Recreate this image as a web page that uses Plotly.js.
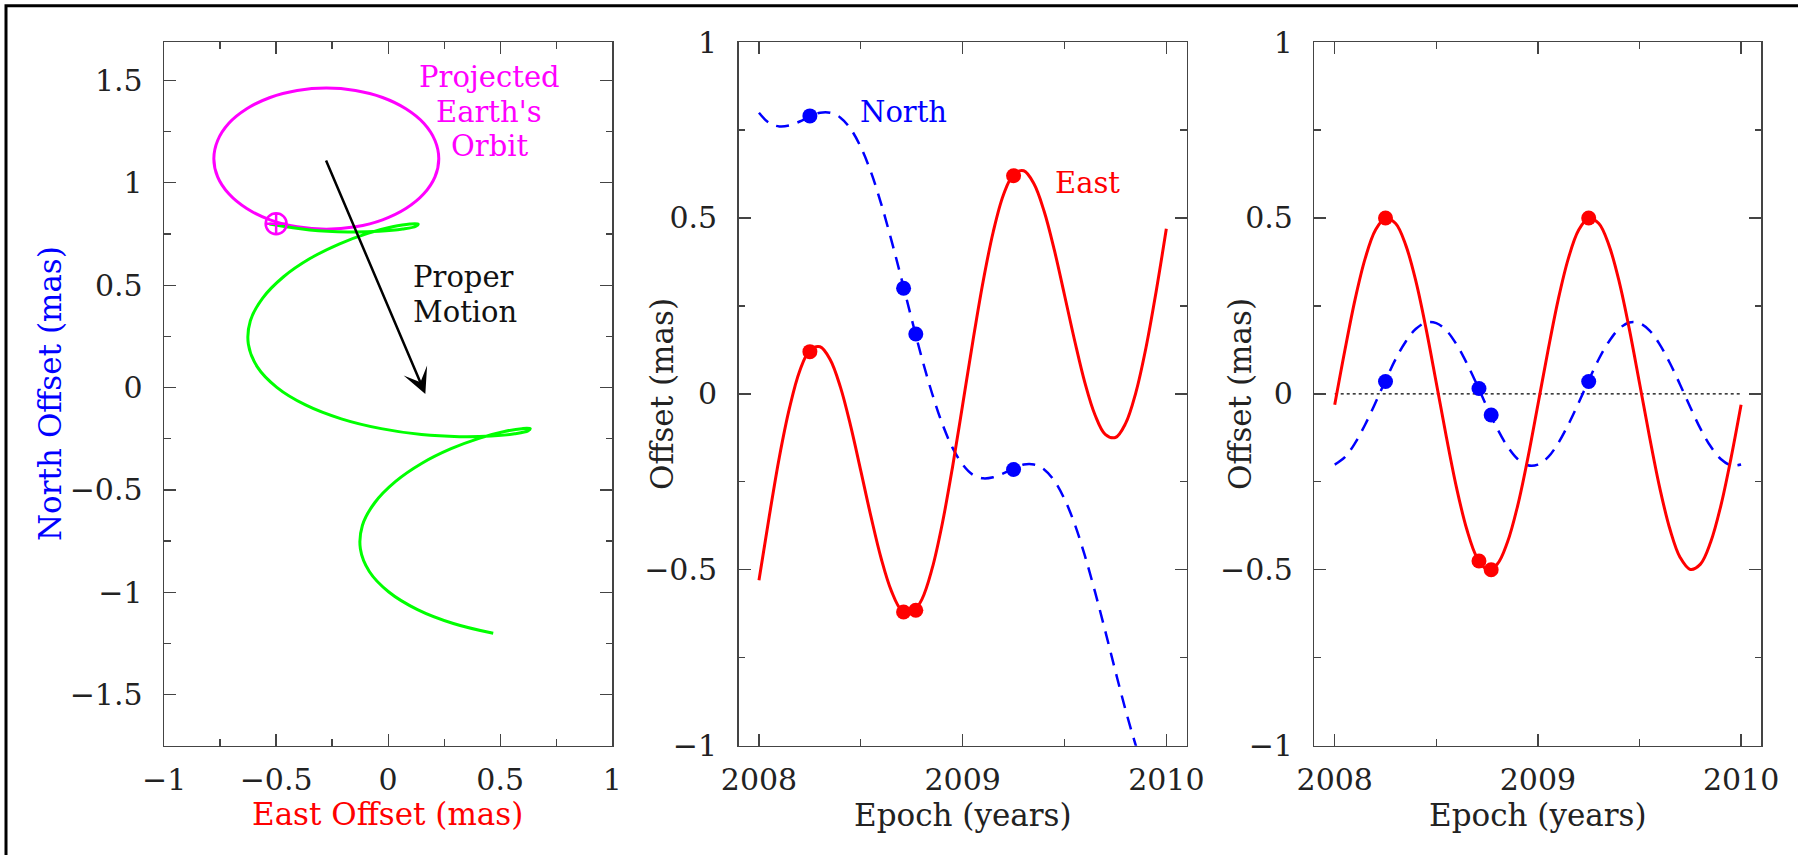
<!DOCTYPE html>
<html>
<head>
<meta charset="utf-8">
<script src="https://cdn.plot.ly/plotly-3.0.1.min.js"></script>
<style>html,body{margin:0;padding:0;background:#fff;}#chart{width:1798px;height:855px;}</style>
</head>
<body>
<div id="chart"></div>
<script>
// ---------- data ----------
// model epochs (years)
const epochs = [2008.00,2008.05,2008.10,2008.15,2008.20,2008.25,2008.30,2008.35,2008.40,2008.45,
  2008.50,2008.55,2008.60,2008.65,2008.70,2008.75,2008.80,2008.85,2008.90,2008.95,
  2009.00,2009.05,2009.10,2009.15,2009.20,2009.25,2009.30,2009.35,2009.40,2009.45,
  2009.50,2009.55,2009.60,2009.65,2009.70,2009.75,2009.80,2009.85,2009.90,2009.95,2010.00];

// parallax + proper motion (middle panel, also the track of the left panel)
const eastTotal = [-0.53,-0.35,-0.18,-0.04,0.065,0.124,0.134,0.097,0.019,-0.091,
  -0.219,-0.349,-0.468,-0.56,-0.615,-0.624,-0.584,-0.497,-0.369,-0.209,
  -0.031,0.149,0.318,0.46,0.565,0.624,0.634,0.597,0.519,0.409,
  0.281,0.151,0.032,-0.06,-0.115,-0.124,-0.084,0.003,0.131,0.291,0.469];
const northTotal = [0.799,0.77,0.76,0.763,0.774,0.788,0.799,0.799,0.785,0.753,
  0.701,0.63,0.54,0.437,0.326,0.212,0.101,0.001,-0.085,-0.153,
  -0.201,-0.23,-0.24,-0.237,-0.226,-0.212,-0.201,-0.201,-0.215,-0.247,
  -0.299,-0.37,-0.46,-0.563,-0.674,-0.788,-0.899,-0.999,-1.085,-1.153,-1.201];

// parallax only (right panel)
const eastParallax = [-0.031,0.124,0.268,0.385,0.465,0.499,0.484,0.422,0.319,0.184,
  0.031,-0.124,-0.268,-0.385,-0.465,-0.499,-0.484,-0.422,-0.319,-0.184,
  -0.031,0.124,0.268,0.385,0.465,0.499,0.484,0.422,0.319,0.184,
  0.031,-0.124,-0.268,-0.385,-0.465,-0.499,-0.484,-0.422,-0.319,-0.184,-0.031];
const northParallax = [-0.201,-0.18,-0.14,-0.087,-0.026,0.038,0.099,0.149,0.185,0.203,
  0.201,0.18,0.14,0.087,0.026,-0.038,-0.099,-0.149,-0.185,-0.203,
  -0.201,-0.18,-0.14,-0.087,-0.026,0.038,0.099,0.149,0.185,0.203,
  0.201,0.18,0.14,0.087,0.026,-0.038,-0.099,-0.149,-0.185,-0.203,-0.201];

// observations
const obsEpoch = [2008.25, 2008.71, 2008.77, 2009.25];
const obsEastTotal = [0.12, -0.62, -0.615, 0.62];
const obsNorthTotal = [0.79, 0.30, 0.17, -0.215];
const obsEastParallax = [0.50, -0.475, -0.50, 0.50];
const obsNorthParallax = [0.035, 0.015, -0.06, 0.035];

// projected Earth's orbit (East, North) in mas
const orbitEast = [0.226,0.209,0.159,0.079,-0.025,-0.146,-0.276,-0.406,-0.527,-0.631,-0.711,-0.761,
  -0.778,-0.761,-0.711,-0.631,-0.527,-0.406,-0.276,-0.146,-0.025,0.079,0.159,0.209,0.226];
const orbitNorth = [1.118,1.207,1.291,1.362,1.417,1.451,1.463,1.451,1.417,1.362,1.291,1.207,
  1.118,1.029,0.946,0.874,0.819,0.785,0.773,0.785,0.819,0.874,0.946,1.029,1.118];

// start position marker and proper-motion arrow (East, North)
const startEast = [-0.5];
const startNorth = [0.8];
const arrowTail = [-0.28, 1.116];
const arrowHead = [0.166, -0.032];

// zero reference line on the right panel
const zeroEpoch = [2008, 2010];
const zeroValue = [0, 0];

// ---------- styling ----------
const FONT = 'DejaVu Serif';
const BLUE = '#0000ff', RED = '#ff0000', GREEN = '#00ff00', MAGENTA = '#ff00ff';

const baseAxis = {
  showline: true, linecolor: '#444', linewidth: 1.5, mirror: 'ticks',
  ticks: 'inside', ticklen: 12, tickwidth: 1.3, tickcolor: '#444',
  showgrid: false, zeroline: false, fixedrange: true,
  tickfont: {family: FONT, size: 30, color: '#222'},
  minor: {ticks: 'inside', ticklen: 6.5, tickwidth: 1.3, tickcolor: '#444', showgrid: false}
};
function ax(extra, minorDtick) {
  const a = Object.assign({}, baseAxis, extra);
  a.minor = Object.assign({}, baseAxis.minor, {dtick: minorDtick});
  return a;
}

const yTop = 1 - 42 / 855, yBot = 1 - 745.7 / 855;
const dom1 = [164.1 / 1798, 612.2 / 1798];
const dom2 = [738.6 / 1798, 1186.7 / 1798];
const dom3 = [1314.4 / 1798, 1761.4 / 1798];

const traces = [
  // left panel
  {x: orbitEast, y: orbitNorth, xaxis: 'x', yaxis: 'y', mode: 'lines',
   line: {color: MAGENTA, width: 3, shape: 'spline'}, hoverinfo: 'skip'},
  {x: eastTotal, y: northTotal, xaxis: 'x', yaxis: 'y', mode: 'lines',
   line: {color: GREEN, width: 3, shape: 'spline'}, hoverinfo: 'skip'},
  {x: startEast, y: startNorth, xaxis: 'x', yaxis: 'y', mode: 'markers',
   marker: {symbol: 'circle-cross-open', size: 21, color: MAGENTA, line: {color: MAGENTA, width: 2.5}}},
  // middle panel
  {x: epochs, y: northTotal, xaxis: 'x2', yaxis: 'y2', mode: 'lines',
   line: {color: BLUE, width: 2.5, dash: '13px,9px', shape: 'spline'}},
  {x: epochs, y: eastTotal, xaxis: 'x2', yaxis: 'y2', mode: 'lines',
   line: {color: RED, width: 3, shape: 'spline'}},
  {x: obsEpoch, y: obsNorthTotal, xaxis: 'x2', yaxis: 'y2', mode: 'markers',
   marker: {color: BLUE, size: 15}},
  {x: obsEpoch, y: obsEastTotal, xaxis: 'x2', yaxis: 'y2', mode: 'markers',
   marker: {color: RED, size: 15}},
  // right panel
  {x: zeroEpoch, y: zeroValue, xaxis: 'x3', yaxis: 'y3', mode: 'lines',
   line: {color: '#000', width: 1.2, dash: 'dot'}},
  {x: epochs, y: northParallax, xaxis: 'x3', yaxis: 'y3', mode: 'lines',
   line: {color: BLUE, width: 2.5, dash: '13px,9px', shape: 'spline'}},
  {x: epochs, y: eastParallax, xaxis: 'x3', yaxis: 'y3', mode: 'lines',
   line: {color: RED, width: 3, shape: 'spline'}},
  {x: obsEpoch, y: obsNorthParallax, xaxis: 'x3', yaxis: 'y3', mode: 'markers',
   marker: {color: BLUE, size: 15}},
  {x: obsEpoch, y: obsEastParallax, xaxis: 'x3', yaxis: 'y3', mode: 'markers',
   marker: {color: RED, size: 15}}
];

const lab = (text, x, y, xref, yref, color, size, extra) => Object.assign({
  text: text, x: x, y: y, xref: xref, yref: yref, showarrow: false,
  font: {family: FONT, size: size, color: color}, xanchor: 'center', yanchor: 'middle'
}, extra || {});

const annotations = [
  lab('Projected', 0.451, 1.519, 'x', 'y', MAGENTA, 29),
  lab("Earth's", 0.451, 1.345, 'x', 'y', MAGENTA, 29),
  lab('Orbit', 0.451, 1.182, 'x', 'y', MAGENTA, 29),
  lab('Proper', 0.102, 0.542, 'x', 'y', '#111', 29, {xanchor: 'left'}),
  lab('Motion', 0.102, 0.371, 'x', 'y', '#111', 29, {xanchor: 'left'}),
  lab('North', 2008.488, 0.80, 'x2', 'y2', BLUE, 29, {xanchor: 'left'}),
  lab('East', 2009.444, 0.60, 'x2', 'y2', RED, 29, {xanchor: 'left'}),
  // axis titles
  lab('North Offset (mas)', 50 / 1798, 1 - 394 / 855, 'paper', 'paper', BLUE, 31, {textangle: -90}),
  lab('East Offset (mas)', 387.8 / 1798, 1 - 814 / 855, 'paper', 'paper', RED, 31),
  lab('Offset (mas)', 662 / 1798, 1 - 394 / 855, 'paper', 'paper', '#222', 31, {textangle: -90}),
  lab('Epoch (years)', 962.6 / 1798, 1 - 815 / 855, 'paper', 'paper', '#222', 31),
  lab('Offset (mas)', 1240 / 1798, 1 - 394 / 855, 'paper', 'paper', '#222', 31, {textangle: -90}),
  lab('Epoch (years)', 1537.6 / 1798, 1 - 815 / 855, 'paper', 'paper', '#222', 31),
  // proper motion arrow
  {x: arrowHead[0], y: arrowHead[1], ax: arrowTail[0], ay: arrowTail[1],
   xref: 'x', yref: 'y', axref: 'x', ayref: 'y', text: '', showarrow: true,
   arrowhead: 3, arrowsize: 1.7, arrowwidth: 2.5, arrowcolor: '#000', standoff: 0}
];

const fx = 6 / 1798, fy = 1 - 5.7 / 855;
const layout = {
  width: 1798, height: 855,
  margin: {l: 0, r: 0, t: 0, b: 0},
  paper_bgcolor: '#fff', plot_bgcolor: '#fff',
  showlegend: false,
  font: {family: FONT},
  xaxis: ax({domain: dom1, anchor: 'y', range: [-1, 1], tick0: 0, dtick: 0.5, ticklabelstandoff: 7}, 0.25),
  yaxis: ax({domain: [yBot, yTop], anchor: 'x', range: [-1.75, 1.688], tick0: 0, dtick: 0.5, ticklabelstandoff: 14}, 0.25),
  xaxis2: ax({domain: dom2, anchor: 'y2', range: [2007.9, 2010.1], tick0: 2008, dtick: 1, tickformat: 'd', ticklabelstandoff: 7}, 0.5),
  yaxis2: ax({domain: [yBot, yTop], anchor: 'x2', range: [-1, 1], tick0: 0, dtick: 0.5, ticklabelstandoff: 14}, 0.25),
  xaxis3: ax({domain: dom3, anchor: 'y3', range: [2007.9, 2010.1], tick0: 2008, dtick: 1, tickformat: 'd', ticklabelstandoff: 7}, 0.5),
  yaxis3: ax({domain: [yBot, yTop], anchor: 'x3', range: [-1, 1], tick0: 0, dtick: 0.5, ticklabelstandoff: 14}, 0.25),
  annotations: annotations,
  shapes: [
    {type: 'path', xref: 'paper', yref: 'paper',
     path: 'M' + fx + ',0 L' + fx + ',' + fy + ' L1,' + fy,
     line: {color: '#000', width: 3}}
  ]
};

Plotly.newPlot('chart', traces, layout, {displayModeBar: false, staticPlot: true});
</script>
</body>
</html>
